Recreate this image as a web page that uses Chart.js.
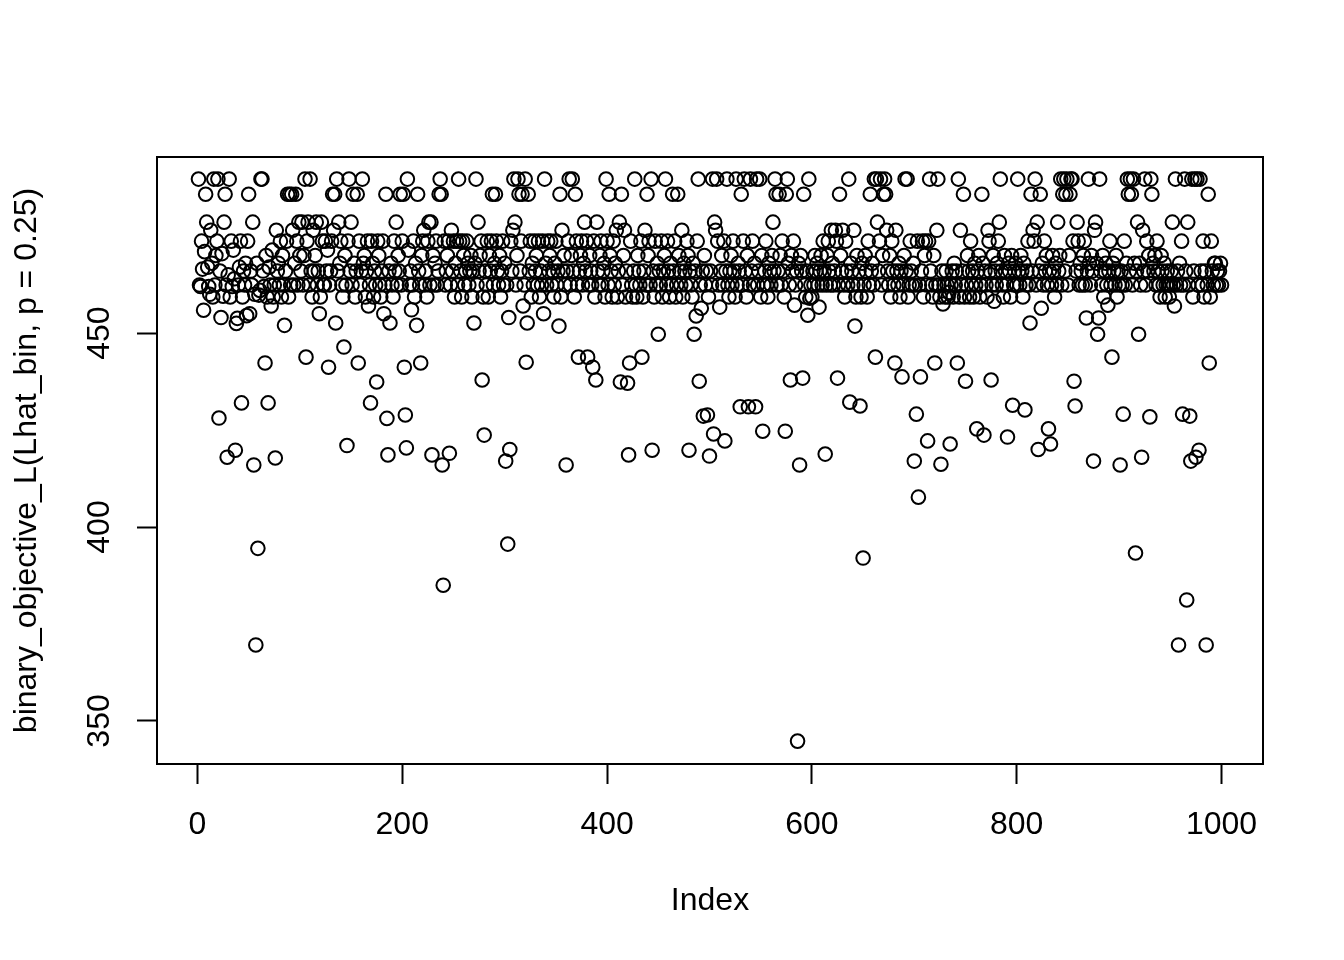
<!DOCTYPE html>
<html>
<head>
<meta charset="utf-8">
<script src="https://cdn.jsdelivr.net/npm/chart.js@4/dist/chart.umd.min.js"></script>
<style>
  html, body { margin: 0; padding: 0; background: #fff; }
  #plot { display: block; }
</style>
</head>
<body>
<canvas id="plot" width="1344" height="960"></canvas>
<script>
// values, by index range
const valuesIdx001to100 = [
  489.7, 462.4, 462, 473.7, 466.5, 455.9, 471, 485.8, 478.6, 467,
  462, 460, 476.5, 468, 459.3, 489.7, 462.4, 470, 473.7, 489.7,
  428.1, 466, 454, 470.5, 459.5, 478.6, 485.8, 462.4, 418, 465,
  489.7, 459.3, 473.7, 462, 471.4, 464, 419.8, 452.5, 453.8, 462.4,
  467, 473.7, 432, 459.3, 466, 462.4, 468, 454.5, 473.7, 485.8,
  455, 466, 462.4, 478.6, 416, 460, 369.6, 468, 394.5, 459.8,
  461, 489.7, 489.7, 466, 462, 442.3, 470, 459.3, 432, 467,
  462.4, 457, 471.4, 459.3, 462.4, 417.8, 476.5, 466, 468, 462.4,
  473.7, 459.3, 470, 462.4, 452, 466, 473.7, 485.8, 459.3, 485.8,
  462.4, 485.8, 476.5, 462.4, 468, 485.8, 473.7, 462.4, 478.6, 470
];
const valuesIdx101to200 = [
  466, 478.6, 462.4, 470, 489.7, 443.8, 473.7, 478.6, 462.4, 489.7,
  466, 459.3, 476.5, 466, 470, 478.6, 462.4, 466, 455, 459.3,
  478.6, 473.7, 462.4, 462.4, 473.7, 466, 471.4, 441.2, 462.4, 466,
  473.7, 485.8, 476.5, 485.8, 452.6, 489.7, 466, 478.6, 468, 473.7,
  462.4, 459.3, 446.4, 470, 462.4, 421, 473.7, 489.7, 466, 478.6,
  462.4, 485.8, 468, 459.3, 466, 485.8, 442.3, 473.7, 462.4, 466,
  489.7, 468, 470, 459.3, 466, 473.7, 457, 462.4, 432, 473.7,
  468, 459.3, 466, 462.4, 437.4, 473.7, 470, 462.4, 459.3, 466,
  473.7, 455, 462.4, 485.8, 428, 418.6, 466, 452.6, 468, 462.4,
  459.3, 473.7, 466, 478.6, 462.4, 470, 466, 485.8, 462.4, 473.7
];
const valuesIdx201to300 = [
  485.8, 441.2, 428.9, 420.4, 489.7, 471.4, 462.4, 466, 456, 462.4,
  473.7, 459.3, 468, 452, 485.8, 466, 462.4, 442.3, 470, 473.7,
  476.5, 462.4, 466, 459.3, 473.7, 478.6, 462.4, 478.6, 418.6, 470,
  462.4, 468, 473.7, 462.4, 466, 485.8, 489.7, 485.8, 416, 385,
  473.7, 462.4, 466, 470, 473.7, 419, 462.4, 476.5, 466, 473.7,
  459.3, 468, 473.7, 462.4, 489.7, 473.7, 466, 459.3, 473.7, 470,
  462.4, 466, 473.7, 468, 462.4, 466, 470, 459.3, 466, 452.6,
  468, 489.7, 462.4, 478.6, 466, 470, 473.7, 437.9, 459.3, 423.7,
  466, 462.4, 473.7, 459.3, 470, 466, 473.7, 485.8, 462.4, 468,
  485.8, 473.7, 466, 462.4, 470, 459.3, 466, 473.7, 462.4, 468
];
const valuesIdx301to400 = [
  417, 462.4, 395.6, 454, 420, 473.7, 466, 476.5, 489.7, 478.6,
  462.4, 470, 489.7, 485.8, 466, 473.7, 485.8, 457, 462.4, 489.7,
  442.5, 452.6, 485.8, 466, 473.7, 459.3, 468, 462.4, 473.7, 466,
  470, 462.4, 473.7, 459.3, 466, 462.4, 473.7, 455, 489.7, 468,
  462.4, 473.7, 466, 470, 473.7, 462.4, 466, 459.3, 468, 473.7,
  462.4, 466, 451.8, 485.8, 459.3, 476.5, 466, 470, 462.4, 416,
  466, 473.7, 489.7, 462.4, 470, 489.7, 466, 459.3, 485.8, 473.7,
  462.4, 443.8, 466, 470, 473.7, 462.4, 468, 478.6, 466, 473.7,
  443.8, 462.4, 470, 466, 462.4, 441.2, 473.7, 459.3, 437.9, 478.6,
  466, 462.4, 470, 473.7, 462.4, 466, 468, 459.3, 489.7, 473.7
];
const valuesIdx401to500 = [
  462.4, 485.8, 470, 466, 459.3, 473.7, 462.4, 468, 476.5, 459.3,
  466, 478.6, 437.4, 485.8, 462.4, 470, 476.5, 459.3, 466, 437.1,
  418.6, 442.3, 473.7, 462.4, 459.3, 466, 489.7, 462.4, 459.3, 470,
  466, 462.4, 473.7, 443.8, 459.3, 466, 476.5, 462.4, 485.8, 470,
  473.7, 462.4, 489.7, 419.8, 466, 459.3, 473.7, 462.4, 468, 449.7,
  466, 462.4, 473.7, 459.3, 466, 470, 489.7, 462.4, 473.7, 466,
  459.3, 468, 462.4, 485.8, 466, 473.7, 459.3, 462.4, 485.8, 470,
  466, 462.4, 476.5, 459.3, 468, 466, 462.4, 473.7, 470, 419.8,
  466, 462.4, 459.3, 468, 449.7, 466, 454.4, 473.7, 489.7, 437.6,
  462.4, 456.4, 466, 428.6, 470, 462.4, 466, 428.9, 459.3, 418.3
];
const valuesIdx501to600 = [
  466, 462.4, 489.7, 424, 478.6, 476.5, 489.7, 473.7, 462.4, 456.7,
  466, 470, 462.4, 473.7, 422.2, 466, 489.7, 462.4, 459.3, 466,
  470, 462.4, 473.7, 466, 459.3, 489.7, 462.4, 468, 466, 431,
  485.8, 462.4, 473.7, 489.7, 466, 459.3, 470, 431, 462.4, 489.7,
  466, 473.7, 462.4, 468, 431, 489.7, 462.4, 466, 489.7, 459.3,
  470, 424.7, 462.4, 466, 473.7, 462.4, 459.3, 468, 466, 462.4,
  470, 478.6, 466, 489.7, 485.8, 462.4, 466, 485.8, 470, 462.4,
  473.7, 466, 459.3, 424.7, 485.8, 489.7, 468, 462.4, 437.9, 470,
  466, 473.7, 457.2, 462.4, 466, 344.8, 468, 416, 470, 466,
  438.4, 485.8, 462.4, 459.3, 466, 454.6, 489.7, 459, 462.4, 459.3
];
const valuesIdx601to700 = [
  466, 462.4, 470, 466, 468, 462.4, 456.7, 466, 470, 462.4,
  473.7, 466, 418.8, 462.4, 470, 473.7, 466, 462.4, 476.5, 468,
  462.4, 466, 476.5, 473.7, 438.4, 462.4, 485.8, 470, 466, 476.5,
  462.4, 459.3, 473.7, 466, 462.4, 489.7, 432.2, 468, 466, 462.4,
  476.5, 451.8, 459.3, 470, 462.4, 466, 431.2, 459.3, 468, 392,
  462.4, 470, 466, 459.3, 473.7, 462.4, 485.8, 466, 468, 462.4,
  489.7, 443.8, 489.7, 478.6, 466, 473.7, 489.7, 462.4, 470, 485.8,
  489.7, 485.8, 476.5, 466, 462.4, 470, 459.3, 473.7, 466, 462.4,
  442.3, 476.5, 466, 462.4, 468, 459.3, 466, 438.7, 462.4, 470,
  489.7, 466, 489.7, 459.3, 462.4, 473.7, 466, 462.4, 468, 417
];
const valuesIdx701to800 = [
  462.4, 429.1, 473.7, 407.7, 462.4, 438.7, 466, 473.7, 459.3, 470,
  473.7, 462.4, 422.2, 473.7, 489.7, 466, 462.4, 459.3, 470, 442.3,
  462.4, 476.5, 489.7, 462.4, 459.3, 416.2, 466, 457.5, 462.4, 459.3,
  466, 462.4, 459.3, 460.5, 421.4, 462.4, 466, 459.3, 468, 462.4,
  466, 442.3, 489.7, 459.3, 476.5, 462.4, 466, 485.8, 459.3, 437.6,
  462.4, 470, 466, 459.3, 473.7, 462.4, 466, 459.3, 468, 462.4,
  425.3, 466, 470, 459.3, 462.4, 485.8, 468, 423.7, 466, 462.4,
  459.3, 476.5, 473.7, 466, 437.9, 462.4, 470, 458.2, 466, 462.4,
  468, 473.7, 478.6, 489.7, 466, 462.4, 459.3, 470, 466, 462.4,
  423.2, 468, 466, 459.3, 470, 431.4, 462.4, 466, 468, 462.4
];
const valuesIdx801to900 = [
  489.7, 466, 462.4, 470, 466, 459.3, 468, 430.2, 462.4, 466,
  473.7, 462.4, 452.6, 485.8, 466, 476.5, 473.7, 489.7, 462.4, 478.6,
  420, 466, 485.8, 456.4, 468, 462.4, 473.7, 466, 470, 462.4,
  425.3, 466, 421.4, 462.4, 470, 466, 459.3, 468, 462.4, 478.6,
  466, 470, 489.7, 462.4, 485.8, 489.7, 466, 485.8, 489.7, 462.4,
  470, 485.8, 489.7, 489.7, 473.7, 437.6, 431.2, 466, 478.6, 473.7,
  462.4, 468, 466, 462.4, 470, 473.7, 462.4, 453.9, 466, 489.7,
  468, 462.4, 470, 466, 417, 476.5, 478.6, 468, 449.7, 453.9,
  489.7, 466, 462.4, 470, 459.3, 466, 468, 462.4, 457.2, 466,
  473.7, 462.4, 443.8, 468, 466, 462.4, 470, 459.3, 466, 462.4
];
const valuesIdx901to1000 = [
  416, 466, 462.4, 429.1, 473.7, 462.4, 468, 489.7, 485.8, 466,
  489.7, 485.8, 462.4, 489.7, 468, 393.3, 466, 478.6, 449.7, 468,
  462.4, 418, 476.5, 466, 489.7, 462.4, 473.7, 466, 470, 428.4,
  489.7, 485.8, 468, 466, 470, 462.4, 473.7, 466, 462.4, 459.3,
  470, 466, 462.4, 468, 459.3, 462.4, 466, 462.4, 459.3, 462.4,
  466, 478.6, 462.4, 457, 489.7, 462.4, 466, 369.6, 468, 462.4,
  473.7, 429.1, 462.4, 489.7, 466, 381.2, 478.6, 462.4, 428.6, 417,
  489.7, 459.3, 466, 489.7, 418, 489.7, 462.4, 419.8, 489.7, 466,
  462.4, 473.7, 459.3, 466, 369.6, 462.4, 485.8, 442.3, 459.3, 473.7,
  466, 462.4, 468, 468, 462.4, 466, 462.4, 466, 468, 462.4
];

const xTickValues = [0, 200, 400, 600, 800, 1000];
const yTickValues = [350, 400, 450];
const xTitle = 'Index';
const yTitle = 'binary_objective_L(Lhat_bin, p = 0.25)';

const objectiveValues = [].concat(
  valuesIdx001to100, valuesIdx101to200, valuesIdx201to300, valuesIdx301to400,
  valuesIdx401to500, valuesIdx501to600, valuesIdx601to700, valuesIdx701to800,
  valuesIdx801to900, valuesIdx901to1000
);

const points = objectiveValues.map((value, i) => ({ x: i + 1, y: value }));

const FONT = '"Liberation Sans", Arial, Helvetica, sans-serif';

// R draws a full box round the plot region
const boxPlugin = {
  id: 'plotBox',
  afterDatasetsDraw(chart) {
    const { ctx, chartArea } = chart;
    ctx.save();
    ctx.strokeStyle = '#000';
    ctx.lineWidth = 2;
    ctx.strokeRect(chartArea.left, chartArea.top,
      chartArea.right - chartArea.left, chartArea.bottom - chartArea.top);
    ctx.restore();
  }
};

new Chart(document.querySelector('#plot'), {
  type: 'scatter',
  data: {
    datasets: [{
      data: points,
      pointStyle: 'circle',
      pointRadius: 6.8,
      pointBorderWidth: 2,
      pointBorderColor: '#000',
      pointBackgroundColor: 'rgba(0,0,0,0)'
    }]
  },
  options: {
    responsive: false,
    animation: false,
    devicePixelRatio: 1,
    layout: { padding: { top: 157, right: 81, left: 0, bottom: 0 } },
    plugins: {
      legend: { display: false },
      tooltip: { enabled: false }
    },
    scales: {
      x: {
        type: 'linear',
        min: -39.5,
        max: 1040.5,
        afterBuildTicks: (scale) => { scale.ticks = xTickValues.map((v) => ({ value: v })); },
        afterFit: (scale) => { scale.height = 196; },
        border: { display: false },
        grid: {
          drawOnChartArea: false,
          drawTicks: true,
          tickLength: 20,
          tickWidth: 2,
          tickColor: '#000'
        },
        ticks: {
          color: '#000',
          padding: 22,
          maxRotation: 0,
          callback: (value) => String(value),
          font: { family: FONT, size: 32 }
        },
        title: {
          display: true,
          text: xTitle,
          color: '#000',
          padding: { top: 0, bottom: 40 },
          font: { family: FONT, size: 32 }
        }
      },
      y: {
        type: 'linear',
        min: 338.9,
        max: 495.4,
        afterBuildTicks: (scale) => { scale.ticks = yTickValues.map((v) => ({ value: v })); },
        afterFit: (scale) => { scale.width = 157; },
        border: { display: false },
        grid: {
          drawOnChartArea: false,
          drawTicks: true,
          tickLength: 20,
          tickWidth: 2,
          tickColor: '#000'
        },
        ticks: {
          color: '#000',
          padding: 10,
          minRotation: 90,
          maxRotation: 90,
          crossAlign: 'center',
          callback: (value) => String(value),
          font: { family: FONT, size: 32 }
        },
        title: {
          display: true,
          text: yTitle,
          color: '#000',
          padding: { top: 8, bottom: 0 },
          font: { family: FONT, size: 32 }
        }
      }
    }
  },
  plugins: [boxPlugin]
});
</script>
</body>
</html>
